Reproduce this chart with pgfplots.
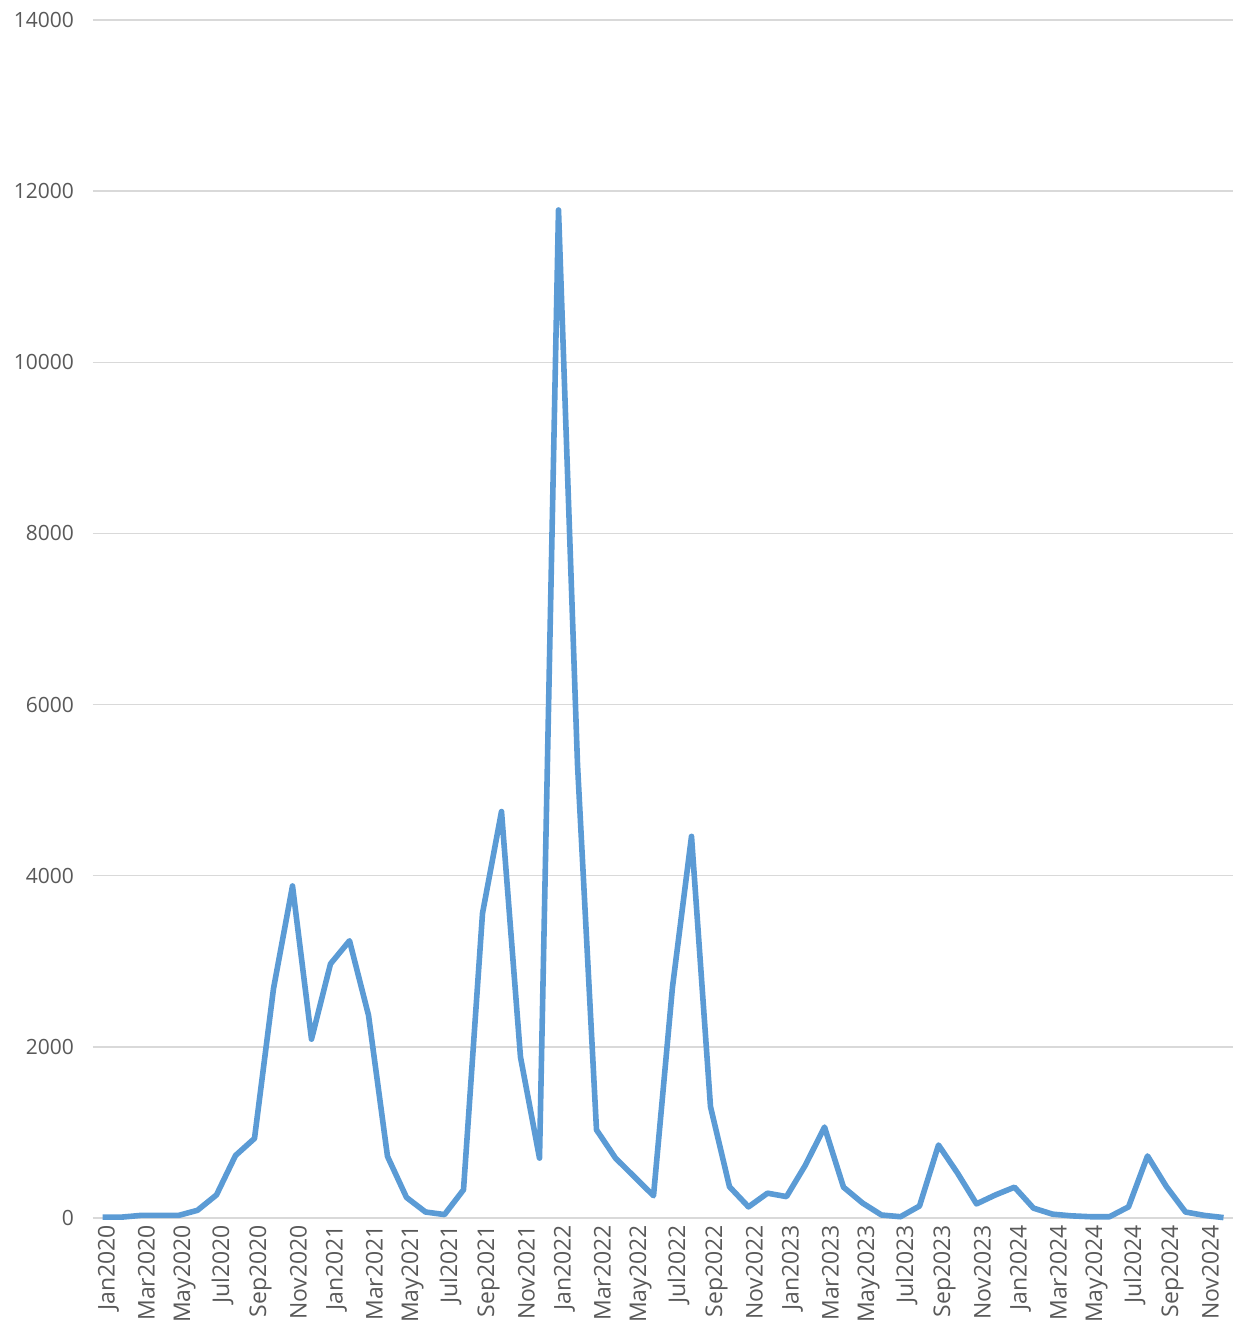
\documentclass[border=0pt]{standalone}
\usepackage{pgfplots}
\pgfplotsset{compat=1.18}
\usepackage{fontspec}
\setmainfont{Open Sans}
\definecolor{linec}{HTML}{5B9BD5}
\definecolor{gridc}{HTML}{D9D9D9}
\definecolor{labc}{HTML}{595959}
\begin{document}
\begin{tikzpicture}
\begin{axis}[
  scale only axis,
  width=570pt, height=599pt,
  xmin=-0.5, xmax=59.5,
  ymin=0, ymax=14000,
  ytick={0,2000,...,14000},
  xtick={0,2,...,58},
  xticklabels={Jan2020,Mar2020,May2020,Jul2020,Sep2020,Nov2020,Jan2021,Mar2021,May2021,Jul2021,Sep2021,Nov2021,Jan2022,Mar2022,May2022,Jul2022,Sep2022,Nov2022,Jan2023,Mar2023,May2023,Jul2023,Sep2023,Nov2023,Jan2024,Mar2024,May2024,Jul2024,Sep2024,Nov2024},
  x tick label style={rotate=90, anchor=east, font=\fontsize{11.5}{12}\selectfont, text=labc},
  y tick label style={font=\fontsize{10.5}{12}\selectfont, text=labc},
  /pgf/number format/assume math mode=true,
  /pgf/number format/.cd, 1000 sep={}, /pgfplots/.cd,
  scaled y ticks=false,
  ymajorgrids,
  grid style={gridc, line width=0.75pt},
  axis line style={draw=none},
  major tick length=0pt,
  xticklabel style={yshift=-3pt},
  yticklabel style={xshift=-6pt},
  clip=false,
]
\addplot[linec, line width=2.8pt, line join=round] coordinates {
(0,10)(1,10)(2,30)(3,30)(4,30)(5,90)(6,270)(7,730)(8,930)(9,2680)(10,3880)(11,2090)
(12,2970)(13,3240)(14,2370)(15,720)(16,240)(17,70)(18,40)(19,330)(20,3560)(21,4750)(22,1880)(23,700)
(24,11780)(25,5300)(26,1030)(27,700)(28,480)(29,260)(30,2700)(31,4460)(32,1300)(33,365)(34,130)(35,290)
(36,250)(37,620)(38,1063)(39,360)(40,175)(41,35)(42,15)(43,140)(44,853)(45,525)(46,165)(47,270)
(48,360)(49,115)(50,45)(51,25)(52,15)(53,15)(54,130)(55,725)(56,365)(57,70)(58,30)(59,5)
};
\path (rel axis cs:0,0) ++(-46.5pt,-56.5pt) coordinate (bl);
\path (rel axis cs:1,1) ++(3pt,10pt) coordinate (tr);
\path (bl) rectangle (tr);
\end{axis}
\end{tikzpicture}
\end{document}
